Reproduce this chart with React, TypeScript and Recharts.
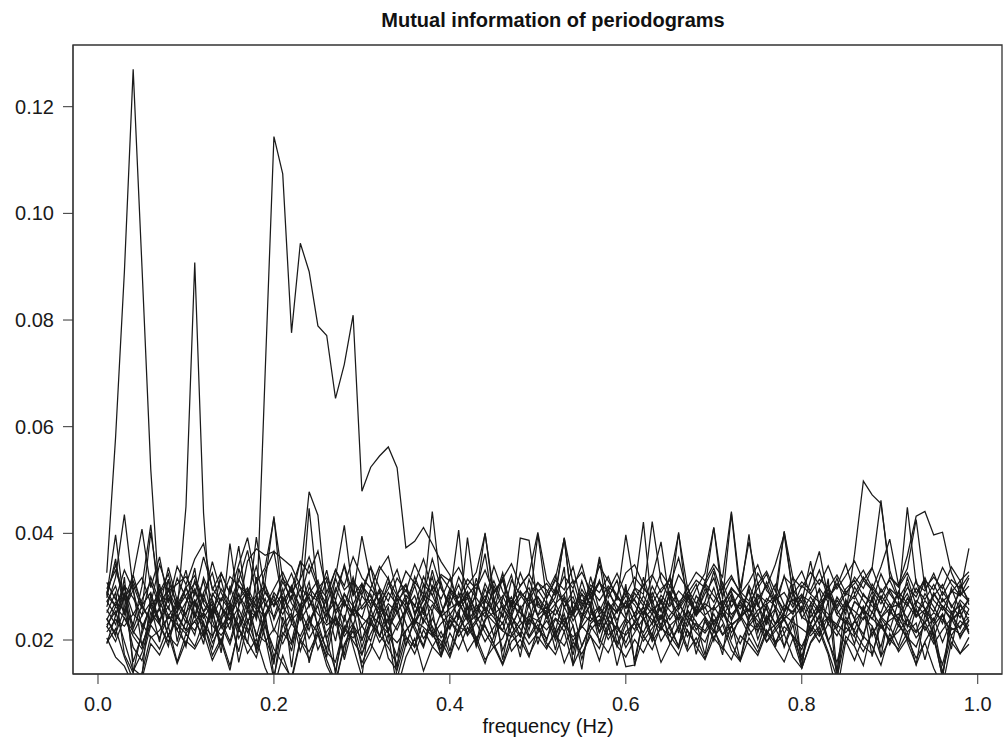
import { LineChart, Line, XAxis, YAxis, ReferenceArea, Customized } from "recharts";

// frequency grid (Hz)
const FREQ = [
  0.01, 0.02, 0.03, 0.04, 0.05, 0.06, 0.07, 0.08, 0.09, 0.1,
  0.11, 0.12, 0.13, 0.14, 0.15, 0.16, 0.17, 0.18, 0.19, 0.2,
  0.21, 0.22, 0.23, 0.24, 0.25, 0.26, 0.27, 0.28, 0.29, 0.3,
  0.31, 0.32, 0.33, 0.34, 0.35, 0.36, 0.37, 0.38, 0.39, 0.4,
  0.41, 0.42, 0.43, 0.44, 0.45, 0.46, 0.47, 0.48, 0.49, 0.5,
  0.51, 0.52, 0.53, 0.54, 0.55, 0.56, 0.57, 0.58, 0.59, 0.6,
  0.61, 0.62, 0.63, 0.64, 0.65, 0.66, 0.67, 0.68, 0.69, 0.7,
  0.71, 0.72, 0.73, 0.74, 0.75, 0.76, 0.77, 0.78, 0.79, 0.8,
  0.81, 0.82, 0.83, 0.84, 0.85, 0.86, 0.87, 0.88, 0.89, 0.9,
  0.91, 0.92, 0.93, 0.94, 0.95, 0.96, 0.97, 0.98, 0.99,
];

// mutual information, all series in units of 1e-4
const MI_MAIN = [
  326, 580, 890, 1270, 900, 520, 270, 240, 252, 450,
  908, 438, 203, 262, 238, 285, 256, 244, 700, 1144,
  1074, 776, 944, 891, 789, 771, 653, 717, 809, 479,
  524, 545, 562, 523, 373, 385, 411, 380, 347, 322,
  265, 282, 240, 296, 251, 230, 274, 262, 219, 281,
  247, 268, 233, 259, 287, 242, 226, 270, 251, 298,
  243, 262, 229, 276, 255, 238, 281, 249, 262, 227,
  270, 291, 246, 258, 224, 267, 283, 240, 255, 273,
  229, 262, 288, 247, 231, 272, 255, 290, 243, 268,
  236, 279, 254, 231, 286, 262, 240, 275, 258,
];

const N01 = [
  262, 318, 435, 296, 188, 241, 305, 224, 276, 331,
  248, 192, 287, 263, 219, 334, 279, 205, 268, 243,
  296, 231, 318, 478, 434, 262, 198, 287, 249, 305,
  236, 278, 214, 169, 255, 302, 247, 331, 268, 221,
  289, 243, 316, 259, 207, 278, 322, 251, 236, 294,
  268, 217, 283, 246, 311, 259, 228, 297, 253, 270,
  232, 318, 264, 241, 289, 213, 276, 305, 247, 262,
  298, 236, 271, 254, 309, 228, 284, 252, 319, 241,
  267, 293, 229, 275, 248, 361, 498, 472, 456, 331,
  278, 306, 244, 287, 262, 231, 298, 254, 276,
];
const N02 = [
  228, 254, 197, 142, 176, 233, 261, 208, 243, 219,
  267, 231, 184, 246, 272, 203, 238, 189, 251, 131,
  208, 246, 179, 232, 264, 199, 142, 221, 257, 186,
  239, 207, 263, 128, 192, 236, 258, 211, 183, 244,
  226, 268, 197, 239, 252, 181, 224, 263, 207, 238,
  254, 199, 231, 172, 243, 266, 215, 238, 187, 229,
  248, 206, 233, 261, 194, 227, 252, 173, 239, 214,
  268, 203, 247, 221, 186, 238, 259, 212, 244, 168,
  232, 257, 201, 142, 236, 219, 263, 207, 244, 226,
  189, 241, 216, 258, 204, 131, 236, 252, 211,
];
const N03 = [
  296, 331, 279, 304, 258, 402, 287, 312, 266, 298,
  321, 273, 347, 289, 256, 312, 368, 284, 302, 263,
  287, 325, 278, 341, 296, 267, 318, 415, 284, 395,
  311, 268, 296, 332, 274, 309, 286, 352, 297, 264,
  318, 283, 305, 272, 338, 291, 263, 326, 284, 308,
  279, 312, 294, 337, 266, 303, 289, 319, 274, 397,
  298, 286, 422, 311, 277, 322, 296, 268, 304, 335,
  282, 316, 291, 273, 325, 299, 342, 398, 286, 309,
  293, 331, 278, 306, 284, 318, 297, 335, 289, 312,
  276, 449, 306, 292, 325, 284, 313, 297, 321,
];
const N04 = [
  241, 207, 318, 146, 132, 286, 229, 314, 197, 268,
  335, 214, 258, 176, 302, 247, 193, 318, 227, 154,
  282, 149, 265, 309, 221, 183, 272, 236, 311, 198,
  257, 291, 214, 266, 188, 243, 305, 219, 171, 282,
  406, 238, 191, 274, 253, 319, 228, 206, 287, 244,
  199, 263, 337, 152, 246, 284, 213, 272, 228, 305,
  151, 247, 276, 218, 292, 233, 185, 264, 309, 226,
  172, 281, 238, 297, 214, 263, 186, 251, 302, 147,
  268, 229, 315, 138, 276, 241, 203, 283, 169, 258,
  291, 224, 267, 312, 206, 248, 183, 269, 235,
];
const N05 = [
  215, 238, 226, 249, 231, 204, 218, 243, 229, 212,
  236, 251, 227, 209, 233, 262, 348, 371, 359, 366,
  352, 338, 301, 276, 249, 228, 241, 219, 204, 226,
  247, 231, 213, 195, 218, 237, 224, 208, 231, 249,
  226, 214, 238, 252, 233, 217, 206, 229, 245, 236,
  219, 241, 228, 206, 224, 247, 263, 238, 221, 209,
  232, 254, 238, 219, 246, 268, 244, 227, 213, 236,
  251, 229, 242, 258, 236, 214, 229, 247, 233, 221,
  208, 226, 243, 229, 214, 235, 256, 241, 222, 237,
  249, 228, 214, 233, 251, 238, 219, 226, 243,
];
const N06 = [
  284, 397, 263, 229, 301, 416, 258, 336, 274, 247,
  312, 268, 241, 325, 287, 376, 254, 393, 288, 265,
  309, 277, 348, 262, 296, 318, 274, 341, 283, 306,
  265, 331, 357, 288, 252, 319, 276, 441, 297, 268,
  304, 259, 283, 401, 276, 243, 312, 285, 261, 398,
  278, 316, 389, 254, 295, 267, 356, 279, 312, 246,
  288, 264, 319, 384, 271, 402, 259, 296, 325, 411,
  276, 437, 283, 398, 262, 309, 271, 404, 288, 256,
  312, 366, 279, 301, 342, 286, 318, 294, 337, 389,
  303, 358, 432, 441, 397, 402, 327, 288, 372,
];
const N07 = [
  195, 221, 168, 124, 138, 207, 183, 226, 159, 212,
  188, 234, 171, 203, 152, 219, 196, 167, 228, 183,
  156, 129, 201, 178, 214, 163, 121, 192, 226, 148,
  181, 237, 166, 143, 205, 174, 219, 188, 169, 213,
  182, 224, 197, 156, 208, 233, 179, 201, 168, 222,
  194, 173, 216, 153, 189, 227, 201, 176, 214, 150,
  153, 208, 182, 227, 196, 171, 219, 188, 163, 205,
  229, 181, 160, 204, 177, 219, 193, 211, 168, 147,
  196, 223, 178, 129, 207, 188, 152, 224, 169, 201,
  183, 214, 153, 197, 226, 139, 208, 175, 192,
];
const N08 = [
  273, 246, 302, 221, 265, 289, 234, 278, 251, 297,
  266, 311, 243, 279, 256, 228, 287, 262, 304, 238,
  281, 254, 297, 236, 268, 312, 249, 275, 226, 283,
  259, 296, 241, 284, 263, 231, 279, 254, 308, 247,
  272, 239, 291, 362, 258, 283, 246, 391, 387, 262,
  254, 281, 392, 246, 275, 263, 351, 238, 284, 259,
  276, 245, 289, 253, 302, 271, 236, 283, 259, 298,
  243, 274, 258, 291, 246, 278, 264, 237, 286, 253,
  281, 255, 296, 248, 272, 239, 287, 263, 251, 294,
  262, 287, 245, 274, 253, 291, 266, 242, 279,
];
const N09 = [
  251, 289, 173, 138, 219, 264, 196, 298, 233, 187,
  276, 208, 254, 191, 267, 158, 232, 279, 205, 126,
  243, 196, 268, 157, 229, 281, 134, 247, 188, 131,
  259, 207, 241, 147, 273, 226, 189, 256, 168, 238,
  214, 262, 187, 235, 278, 163, 246, 207, 269, 192,
  248, 181, 263, 227, 145, 256, 214, 271, 193, 238,
  162, 243, 208, 276, 221, 189, 257, 234, 172, 263,
  236, 194, 161, 243, 272, 207, 258, 186, 229, 149,
  257, 211, 273, 126, 238, 192, 264, 169, 241, 218,
  273, 196, 154, 248, 212, 128, 255, 203, 236,
];
const N10 = [
  308, 276, 331, 294, 317, 268, 342, 291, 305, 319,
  284, 356, 297, 273, 319, 302, 285, 338, 264, 296,
  327, 289, 314, 356, 303, 279, 332, 294, 312, 285,
  337, 298, 273, 316, 291, 342, 305, 284, 319, 296,
  279, 314, 296, 331, 287, 312, 268, 302, 324, 291,
  306, 283, 319, 297, 341, 278, 307, 292, 325, 284,
  318, 296, 279, 326, 301, 354, 287, 312, 298, 411,
  297, 321, 286, 309, 341, 293, 274, 318, 302, 329,
  286, 314, 297, 322, 289, 306, 331, 298, 276, 317,
  299, 326, 288, 312, 294, 336, 305, 283, 316,
];
const N11 = [
  224, 263, 241, 207, 183, 252, 229, 196, 248, 217,
  235, 206, 262, 228, 191, 247, 214, 256, 203, 162,
  227, 251, 198, 236, 214, 169, 243, 207, 231, 174,
  212, 246, 193, 228, 257, 219, 186, 241, 204, 226,
  251, 208, 233, 197, 224, 249, 212, 184, 238, 221,
  203, 239, 216, 254, 188, 231, 247, 209, 226, 195,
  236, 214, 251, 198, 227, 243, 206, 232, 217, 249,
  211, 233, 162, 226, 248, 197, 223, 241, 206, 182,
  229, 207, 244, 218, 193, 236, 211, 253, 226, 198,
  241, 215, 232, 163, 227, 249, 208, 236, 219,
];
const N12 = [
  279, 352, 248, 311, 267, 233, 289, 324, 258, 301,
  243, 317, 276, 229, 381, 264, 294, 238, 309, 432,
  258, 296, 243, 447, 287, 232, 316, 268, 251, 294,
  337, 262, 231, 286, 305, 247, 273, 318, 249, 283,
  238, 392, 266, 243, 302, 259, 281, 236, 314, 268,
  247, 298, 263, 281, 236, 319, 254, 289, 264, 239,
  296, 421, 257, 238, 287, 263, 301, 248, 272, 329,
  254, 286, 241, 302, 267, 231, 283, 256, 294, 271,
  348, 263, 237, 281, 256, 299, 274, 251, 296, 268,
  239, 317, 265, 248, 289, 261, 237, 304, 273,
];
const N13 = [
  204, 168, 151, 115, 127, 193, 172, 211, 156, 198,
  183, 214, 162, 197, 143, 226, 175, 202, 148, 110,
  171, 123, 198, 164, 211, 152, 118, 189, 217, 157,
  193, 164, 211, 108, 168, 203, 142, 187, 216, 172,
  224, 179, 206, 163, 188, 153, 197, 214, 172, 206,
  183, 219, 157, 196, 174, 208, 161, 223, 189, 168,
  201, 176, 213, 158, 192, 224, 179, 204, 166, 218,
  187, 163, 208, 192, 171, 214, 185, 159, 203, 147,
  194, 216, 173, 102, 198, 162, 207, 189, 153, 212,
  178, 203, 166, 195, 147, 112, 196, 174, 205,
];
const N14 = [
  238, 271, 256, 294, 223, 264, 287, 245, 269, 232,
  291, 252, 273, 238, 266, 221, 258, 284, 243, 276,
  248, 283, 237, 265, 292, 254, 228, 271, 246, 263,
  286, 241, 268, 252, 277, 229, 263, 297, 244, 259,
  271, 236, 259, 283, 248, 264, 227, 259, 281, 246,
  262, 247, 278, 236, 263, 291, 248, 269, 237, 274,
  249, 283, 254, 271, 238, 262, 287, 245, 268, 256,
  274, 248, 266, 239, 284, 257, 231, 265, 252, 281,
  243, 268, 286, 257, 229, 272, 258, 239, 283, 261,
  266, 241, 274, 259, 236, 278, 252, 264, 247,
];
const N15 = [
  287, 341, 276, 322, 408, 298, 356, 269, 338, 304,
  352, 381, 294, 326, 287, 341, 392, 307, 336, 428,
  314, 296, 348, 325, 367, 289, 331, 302, 356, 317,
  297, 338, 314, 283, 329, 306, 352, 294, 323, 311,
  336, 302, 327, 399, 289, 315, 343, 301, 324, 402,
  313, 288, 391, 306, 327, 292, 338, 311, 284, 326,
  341, 303, 322, 289, 316, 399, 298, 327, 311, 342,
  318, 441, 297, 384, 305, 329, 291, 403, 316, 298,
  327, 304, 339, 296, 321, 348, 312, 336, 462, 319,
  302, 334, 426, 297, 318, 296, 337, 311, 328,
];
const N16 = [
  226, 197, 242, 216, 193, 231, 258, 207, 189, 236,
  218, 249, 195, 226, 241, 178, 256, 212, 197, 221,
  193, 231, 207, 245, 182, 216, 239, 163, 228, 201,
  234, 196, 221, 252, 207, 186, 239, 214, 198, 167,
  219, 246, 203, 227, 192, 156, 211, 238, 204, 229,
  187, 213, 241, 198, 226, 207, 184, 231, 152, 216,
  231, 198, 222, 247, 209, 184, 236, 214, 196, 238,
  209, 226, 193, 231, 218, 242, 196, 225, 208, 188,
  224, 196, 231, 208, 243, 216, 189, 174, 229, 201,
  216, 238, 204, 226, 193, 219, 241, 207, 229,
];
const N17 = [
  291, 264, 302, 279, 246, 318, 271, 293, 258, 284,
  307, 276, 249, 296, 271, 314, 282, 257, 329, 366,
  272, 298, 263, 287, 312, 246, 291, 338, 266, 302,
  281, 256, 308, 273, 294, 262, 319, 284, 247, 296,
  268, 302, 279, 254, 292, 311, 263, 288, 273, 307,
  294, 268, 286, 312, 257, 296, 274, 301, 283, 261,
  278, 303, 269, 296, 312, 271, 288, 254, 307, 283,
  262, 295, 281, 268, 297, 324, 276, 289, 261, 302,
  286, 271, 303, 259, 288, 277, 312, 293, 268, 296,
  281, 264, 297, 276, 304, 272, 289, 311, 266,
];
const N18 = [
  193, 246, 287, 159, 211, 268, 231, 188, 274, 242,
  209, 286, 237, 191, 262, 218, 274, 176, 249, 283,
  234, 179, 256, 218, 287, 203, 248, 171, 266, 227,
  198, 254, 216, 279, 231, 188, 264, 207, 252, 179,
  247, 212, 268, 226, 193, 259, 237, 168, 251, 218,
  273, 206, 249, 184, 232, 268, 196, 253, 214, 241,
  219, 263, 201, 246, 228, 187, 257, 219, 243, 198,
  252, 214, 238, 269, 201, 246, 222, 188, 241, 263,
  214, 247, 198, 231, 266, 209, 243, 226, 187, 254,
  233, 201, 259, 218, 241, 196, 238, 255, 214,
];
const N19 = [
  257, 229, 284, 213, 246, 271, 238, 263, 219, 252,
  274, 241, 268, 222, 255, 287, 236, 249, 278, 217,
  263, 238, 255, 281, 226, 249, 273, 214, 258, 242,
  227, 265, 244, 219, 258, 283, 232, 266, 245, 221,
  256, 279, 233, 261, 242, 218, 267, 251, 229, 273,
  241, 258, 226, 272, 249, 235, 261, 224, 256, 283,
  266, 238, 259, 228, 271, 252, 226, 263, 244, 218,
  259, 241, 275, 232, 256, 268, 229, 252, 277, 243,
  231, 264, 249, 222, 267, 254, 238, 276, 242, 259,
  226, 268, 243, 257, 231, 264, 249, 221, 258,
];
const N20 = [
  272, 301, 246, 322, 263, 236, 294, 258, 316, 279,
  243, 289, 326, 261, 238, 302, 274, 247, 291, 264,
  318, 269, 242, 298, 276, 331, 254, 287, 263, 241,
  296, 273, 318, 251, 284, 266, 238, 302, 277, 315,
  264, 291, 248, 306, 271, 326, 253, 279, 298, 246,
  287, 322, 261, 294, 242, 286, 309, 267, 251, 293,
  274, 249, 301, 268, 319, 257, 283, 246, 296, 271,
  308, 262, 289, 244, 276, 302, 258, 321, 267, 286,
  253, 297, 271, 316, 262, 284, 249, 305, 276, 247,
  291, 268, 312, 256, 283, 304, 261, 289, 272,
];
const N21 = [
  239, 212, 257, 186, 161, 228, 204, 247, 218, 193,
  251, 226, 208, 236, 197, 258, 221, 184, 239, 168,
  214, 192, 246, 203, 233, 177, 159, 226, 198, 172,
  231, 209, 186, 154, 217, 241, 203, 226, 189, 238,
  207, 231, 246, 214, 186, 203, 243, 221, 192, 214,
  236, 208, 189, 227, 164, 219, 238, 201, 229, 186,
  214, 241, 197, 223, 208, 249, 216, 192, 235, 204,
  183, 226, 244, 209, 231, 196, 217, 238, 204, 163,
  219, 242, 197, 158, 224, 206, 178, 213, 236, 191,
  228, 205, 187, 234, 199, 154, 223, 211, 238,
];
const N22 = [
  284, 263, 297, 248, 276, 309, 261, 284, 242, 271,
  296, 254, 282, 313, 247, 276, 298, 263, 241, 289,
  267, 302, 256, 286, 273, 244, 297, 263, 318, 258,
  276, 249, 289, 266, 303, 251, 284, 272, 247, 291,
  263, 287, 254, 276, 311, 268, 243, 292, 267, 281,
  258, 294, 273, 247, 286, 269, 312, 256, 279, 262,
  297, 271, 248, 284, 263, 292, 274, 251, 287, 316,
  263, 298, 279, 254, 286, 271, 304, 266, 248, 283,
  272, 251, 287, 264, 296, 312, 283, 271, 324, 287,
  264, 298, 281, 317, 274, 256, 292, 283, 301,
];

const X_TICKS = [0, 0.2, 0.4, 0.6, 0.8, 1.0];
const Y_TICKS = [0.02, 0.04, 0.06, 0.08, 0.1, 0.12];

const X_DOMAIN: [number, number] = [-0.0284, 1.0276];
const Y_DOMAIN: [number, number] = [0.013625, 0.13157];

const NOISE = [
  N01, N02, N03, N04, N05, N06, N07, N08, N09, N10, N11,
  N12, N13, N14, N15, N16, N17, N18, N19, N20, N21, N22,
];
const SERIES = [...NOISE, MI_MAIN];

const data = FREQ.map((f, i) => {
  const row: Record<string, number> = { f };
  SERIES.forEach((s, k) => {
    row["s" + k] = s[i] / 10000;
  });
  return row;
});

const FONT = "'Liberation Sans', Arial, Helvetica, sans-serif";
const INK = "#1a1a1a";

function Titles() {
  return (
    <g fontFamily={FONT} fill="#111">
      <text x={553} y={27} textAnchor="middle" fontSize={20} fontWeight="bold">
        Mutual information of periodograms
      </text>
      <text x={548} y={733} textAnchor="middle" fontSize={20}>
        frequency (Hz)
      </text>
    </g>
  );
}

export default function App() {
  return (
    <div style={{ position: "absolute", left: 0, top: 0, background: "#fff" }}>
      <LineChart width={1003} height={749} data={data} margin={{ top: 45, right: 1, bottom: 0, left: 0 }}>
        <XAxis
          type="number"
          dataKey="f"
          domain={X_DOMAIN}
          ticks={X_TICKS}
          allowDataOverflow
          tickFormatter={(v: number) => v.toFixed(1)}
          tick={{ fontSize: 20, fill: "#1a1a1a", fontFamily: FONT }}
          tickSize={10}
          tickMargin={13}
          height={75}
          stroke="#333"
        />
        <YAxis
          type="number"
          domain={Y_DOMAIN}
          ticks={Y_TICKS}
          allowDataOverflow
          tickFormatter={(v: number) => v.toFixed(2)}
          tick={{ fontSize: 20, fill: "#1a1a1a", fontFamily: FONT }}
          tickSize={10}
          tickMargin={9}
          width={73}
          stroke="#333"
        />
        <ReferenceArea
          x1={X_DOMAIN[0]}
          x2={X_DOMAIN[1]}
          y1={Y_DOMAIN[0]}
          y2={Y_DOMAIN[1]}
          fill="none"
          stroke="#333"
          strokeWidth={1.3}
          ifOverflow="visible"
        />
        {SERIES.map((_, k) => (
          <Line
            key={k}
            type="linear"
            dataKey={"s" + k}
            stroke={INK}
            strokeWidth={1.25}
            dot={false}
            activeDot={false}
            isAnimationActive={false}
          />
        ))}
        <Customized component={Titles} />
      </LineChart>
    </div>
  );
}
